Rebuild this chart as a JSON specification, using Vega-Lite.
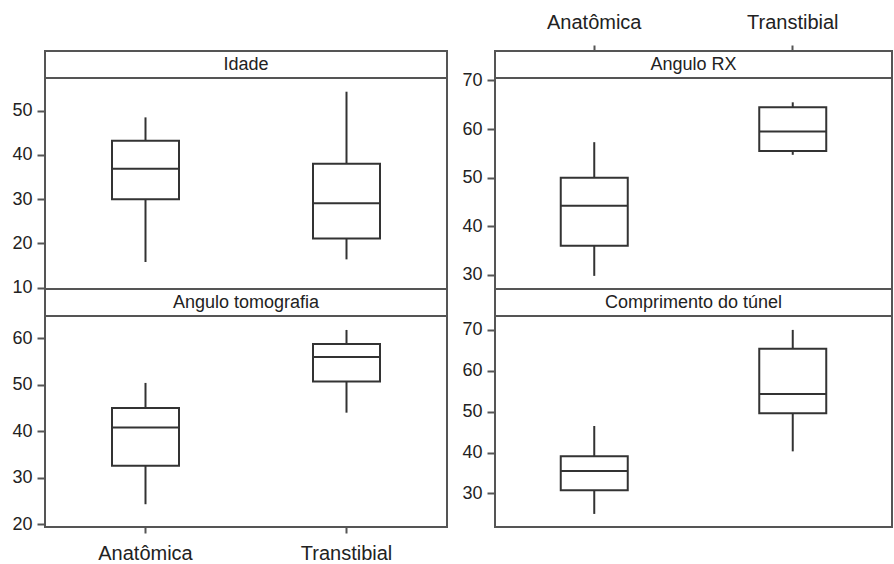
{
  "$schema": "https://vega.github.io/schema/vega-lite/v6.json",
  "padding": {"top": 11, "left": 10, "right": 0, "bottom": 0},
  "background": "white",
  "datasets": {
    "boxes": [
      {"panel": "Idade", "group": "Anatômica", "min": 15.8, "q1": 30.0, "median": 36.9, "q3": 43.2, "max": 48.5},
      {"panel": "Idade", "group": "Transtibial", "min": 16.4, "q1": 21.1, "median": 29.1, "q3": 38.0, "max": 54.3},
      {"panel": "Angulo RX", "group": "Anatômica", "min": 29.8, "q1": 36.0, "median": 44.2, "q3": 50.0, "max": 57.3},
      {"panel": "Angulo RX", "group": "Transtibial", "min": 54.7, "q1": 55.5, "median": 59.5, "q3": 64.5, "max": 65.5},
      {"panel": "Angulo tomografia", "group": "Anatômica", "min": 24.3, "q1": 32.6, "median": 40.8, "q3": 45.0, "max": 50.4},
      {"panel": "Angulo tomografia", "group": "Transtibial", "min": 44.0, "q1": 50.7, "median": 56.0, "q3": 58.8, "max": 61.8},
      {"panel": "Comprimento do túnel", "group": "Anatômica", "min": 25.0, "q1": 30.8, "median": 35.5, "q3": 39.1, "max": 46.5},
      {"panel": "Comprimento do túnel", "group": "Transtibial", "min": 40.3, "q1": 49.6, "median": 54.3, "q3": 65.4, "max": 70.0}
    ]
  },
  "data": {"name": "boxes"},
  "columns": 2,
  "spacing": {"row": 0, "column": 48},
  "bounds": "flush",
  "align": "each",
  "resolve": {"scale": {"x": "independent", "y": "independent"}},
  "concat": [
    {
      "width": 402, "height": 27,
      "layer": [
        {"data": {"values": [{"t": "Idade"}]}, "mark": {"type": "text", "fontSize": 18, "color": "#222"}, "encoding": {"text": {"field": "t"}}},
        {"mark": {"type": "rule", "opacity": 0}, "encoding": {"x": {"field": "group", "type": "nominal", "scale": {"type": "band", "domain": ["Anatômica", "Transtibial"], "paddingInner": 0, "paddingOuter": 0}, "axis": null}}}
      ]
    },
    {
      "width": 397, "height": 27,
      "layer": [
        {"data": {"values": [{"t": "Angulo RX"}]}, "mark": {"type": "text", "fontSize": 18, "color": "#222"}, "encoding": {"text": {"field": "t"}}},
        {
          "mark": {"type": "rule", "opacity": 0},
          "encoding": {
            "x": {"field": "group", "type": "nominal",
                  "scale": {"type": "band", "domain": ["Anatômica", "Transtibial"], "paddingInner": 0, "paddingOuter": 0},
                  "axis": {"orient": "top", "title": null, "labelFontSize": 20, "labelPadding": 13, "tickSize": 6, "labelAngle": 0}}
          }
        }
      ]
    },
    {
      "width": 402, "height": 211,
      "transform": [{"filter": "datum.panel === 'Idade'"}],
      "encoding": {"x": {"field": "group", "type": "nominal", "scale": {"type": "band", "domain": ["Anatômica", "Transtibial"], "paddingInner": 0, "paddingOuter": 0}, "axis": null}},
      "layer": [
        {"mark": {"type": "rule", "color": "#333", "strokeWidth": 2},
         "encoding": {"y": {"field": "min", "type": "quantitative", "scale": {"domain": [9.7, 57.4], "nice": false, "zero": false}, "axis": {"values": [10, 20, 30, 40, 50], "title": null}}, "y2": {"field": "max"}}},
        {"mark": {"type": "bar", "fill": "white", "stroke": "#333", "strokeWidth": 2, "size": 67},
         "encoding": {"y": {"field": "q1", "type": "quantitative"}, "y2": {"field": "q3"}}},
        {"mark": {"type": "tick", "color": "#333", "opacity": 1, "thickness": 2, "size": 67, "orient": "horizontal"},
         "encoding": {"y": {"field": "median", "type": "quantitative"}}}
      ]
    },
    {
      "width": 397, "height": 211,
      "transform": [{"filter": "datum.panel === 'Angulo RX'"}],
      "encoding": {"x": {"field": "group", "type": "nominal", "scale": {"type": "band", "domain": ["Anatômica", "Transtibial"], "paddingInner": 0, "paddingOuter": 0}, "axis": null}},
      "layer": [
        {"mark": {"type": "rule", "color": "#333", "strokeWidth": 2},
         "encoding": {"y": {"field": "min", "type": "quantitative", "scale": {"domain": [27.1, 70.5], "nice": false, "zero": false}, "axis": {"values": [30, 40, 50, 60, 70], "title": null}}, "y2": {"field": "max"}}},
        {"mark": {"type": "bar", "fill": "white", "stroke": "#333", "strokeWidth": 2, "size": 67},
         "encoding": {"y": {"field": "q1", "type": "quantitative"}, "y2": {"field": "q3"}}},
        {"mark": {"type": "tick", "color": "#333", "opacity": 1, "thickness": 2, "size": 67, "orient": "horizontal"},
         "encoding": {"y": {"field": "median", "type": "quantitative"}}}
      ]
    },
    {
      "width": 402, "height": 27,
      "layer": [
        {"data": {"values": [{"t": "Angulo tomografia"}]}, "mark": {"type": "text", "fontSize": 18, "color": "#222"}, "encoding": {"text": {"field": "t"}}},
        {"mark": {"type": "rule", "opacity": 0}, "encoding": {"x": {"field": "group", "type": "nominal", "scale": {"type": "band", "domain": ["Anatômica", "Transtibial"], "paddingInner": 0, "paddingOuter": 0}, "axis": null}}}
      ]
    },
    {
      "width": 397, "height": 27,
      "layer": [
        {"data": {"values": [{"t": "Comprimento do túnel"}]}, "mark": {"type": "text", "fontSize": 18, "color": "#222"}, "encoding": {"text": {"field": "t"}}},
        {"mark": {"type": "rule", "opacity": 0}, "encoding": {"x": {"field": "group", "type": "nominal", "scale": {"type": "band", "domain": ["Anatômica", "Transtibial"], "paddingInner": 0, "paddingOuter": 0}, "axis": null}}}
      ]
    },
    {
      "width": 402, "height": 211,
      "transform": [{"filter": "datum.panel === 'Angulo tomografia'"}],
      "encoding": {"x": {"field": "group", "type": "nominal", "scale": {"type": "band", "domain": ["Anatômica", "Transtibial"], "paddingInner": 0, "paddingOuter": 0}, "axis": {"title": null, "labelFontSize": 20, "labelPadding": 10, "tickSize": 6, "labelAngle": 0}}},
      "layer": [
        {"mark": {"type": "rule", "color": "#333", "strokeWidth": 2},
         "encoding": {"y": {"field": "min", "type": "quantitative", "scale": {"domain": [19.4, 64.8], "nice": false, "zero": false}, "axis": {"values": [20, 30, 40, 50, 60], "title": null}}, "y2": {"field": "max"}}},
        {"mark": {"type": "bar", "fill": "white", "stroke": "#333", "strokeWidth": 2, "size": 67},
         "encoding": {"y": {"field": "q1", "type": "quantitative"}, "y2": {"field": "q3"}}},
        {"mark": {"type": "tick", "color": "#333", "opacity": 1, "thickness": 2, "size": 67, "orient": "horizontal"},
         "encoding": {"y": {"field": "median", "type": "quantitative"}}}
      ]
    },
    {
      "width": 397, "height": 211,
      "transform": [{"filter": "datum.panel === 'Comprimento do túnel'"}],
      "encoding": {"x": {"field": "group", "type": "nominal", "scale": {"type": "band", "domain": ["Anatômica", "Transtibial"], "paddingInner": 0, "paddingOuter": 0}, "axis": null}},
      "layer": [
        {"mark": {"type": "rule", "color": "#333", "strokeWidth": 2},
         "encoding": {"y": {"field": "min", "type": "quantitative", "scale": {"domain": [21.8, 73.4], "nice": false, "zero": false}, "axis": {"values": [30, 40, 50, 60, 70], "title": null}}, "y2": {"field": "max"}}},
        {"mark": {"type": "bar", "fill": "white", "stroke": "#333", "strokeWidth": 2, "size": 67},
         "encoding": {"y": {"field": "q1", "type": "quantitative"}, "y2": {"field": "q3"}}},
        {"mark": {"type": "tick", "color": "#333", "opacity": 1, "thickness": 2, "size": 67, "orient": "horizontal"},
         "encoding": {"y": {"field": "median", "type": "quantitative"}}}
      ]
    }
  ],
  "config": {
    "font": "Liberation Sans",
    "view": {"stroke": "#555", "strokeWidth": 2},
    "axis": {"domain": false, "grid": false, "labelFont": "Liberation Sans", "labelFontSize": 18, "labelColor": "#222", "tickColor": "#555", "tickWidth": 2, "tickSize": 8, "labelPadding": 5}
  }
}
